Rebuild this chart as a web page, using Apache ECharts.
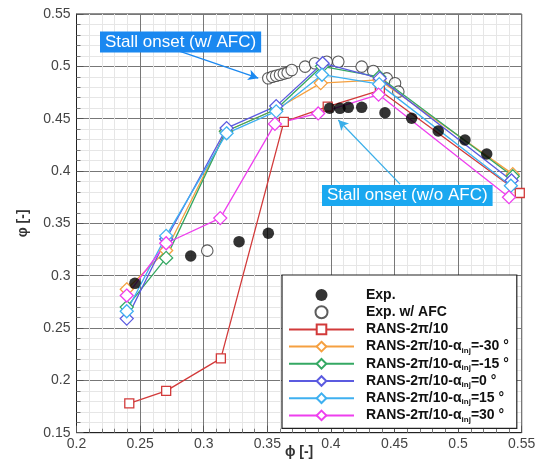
<!DOCTYPE html>
<html><head><meta charset="utf-8">
<script src="https://cdn.jsdelivr.net/npm/echarts@6/dist/echarts.min.js"></script>
<style>html,body{margin:0;padding:0;background:#fff}#c{width:544px;height:469px}</style>
</head><body><div id="c"></div>
<script>
// ---- data ----
const xTicks = [0.2, 0.25, 0.3, 0.35, 0.4, 0.45, 0.5, 0.55];
const yTicks = [0.15, 0.2, 0.25, 0.3, 0.35, 0.4, 0.45, 0.5, 0.55];

const expPhi = [0.2459, 0.2898, 0.3278, 0.3508, 0.399, 0.4071, 0.4137, 0.4242, 0.4425, 0.4635, 0.4844, 0.5054, 0.5225];
const expPsi = [0.2927, 0.3188, 0.3325, 0.3405, 0.460, 0.4599, 0.4608, 0.4608, 0.4557, 0.4504, 0.4382, 0.4296, 0.4163];

const afcPhi = [0.3028, 0.3508, 0.354, 0.357, 0.360, 0.363, 0.366, 0.3692, 0.3797, 0.3875, 0.3967, 0.4058, 0.4242, 0.4333, 0.4439, 0.4504, 0.453];
const afcPsi = [0.3239, 0.4886, 0.490, 0.491, 0.492, 0.493, 0.494, 0.4965, 0.4997, 0.5029, 0.5044, 0.5044, 0.4997, 0.4955, 0.4885, 0.4838, 0.4758];

const ransPhi = [0.2415, 0.2705, 0.3135, 0.3630, 0.3975, 0.4385, 0.5485];
const ransPsi = [0.178, 0.190, 0.221, 0.447, 0.4615, 0.477, 0.379];

const m30Phi = [0.2395, 0.2705, 0.3175, 0.357, 0.392, 0.438, 0.543];
const m30Psi = [0.287, 0.324, 0.438, 0.459, 0.484, 0.487, 0.397];

const m15Phi = [0.2395, 0.2705, 0.3175, 0.357, 0.393, 0.438, 0.543];
const m15Psi = [0.270, 0.317, 0.438, 0.459, 0.500, 0.490, 0.395];

const a0Phi = [0.2395, 0.2705, 0.318, 0.357, 0.3935, 0.4385, 0.542];
const a0Psi = [0.259, 0.335, 0.441, 0.462, 0.503, 0.4885, 0.391];

const p15Phi = [0.2395, 0.2705, 0.318, 0.357, 0.393, 0.438, 0.5415];
const p15Psi = [0.266, 0.338, 0.436, 0.457, 0.492, 0.483, 0.386];

const p30Phi = [0.2395, 0.2705, 0.313, 0.356, 0.390, 0.4375, 0.540];
const p30Psi = [0.281, 0.331, 0.355, 0.445, 0.455, 0.473, 0.375];

const names = ['Exp.', 'Exp. w/ AFC', 'RANS-2π/10', 'RANS-2π/10-αinj=-30°', 'RANS-2π/10-αinj=-15°',
  'RANS-2π/10-αinj=0°', 'RANS-2π/10-αinj=15°', 'RANS-2π/10-αinj=30°'];

// ---- build ----
const zip = (a, b) => a.map((v, i) => [v, b[i]]);
const lineSeries = (name, xs, ys, color, sym, size) => ({
  name, type: 'line', data: zip(xs, ys), symbol: sym, symbolSize: size,
  lineStyle: { color, width: 1.3 }, itemStyle: { color: '#fff', borderColor: color, borderWidth: 1.3 },
  emphasis: { disabled: true }, z: 3
});
const F = 'Liberation Sans';

const chart = echarts.init(document.getElementById('c'));
chart.setOption({
  animation: false,
  grid: { left: 76.5, right: 22.3, top: 14, bottom: 36.3, show: true, borderColor: '#222', borderWidth: 1,
    outerBoundsMode: 'none', containLabel: false },
  xAxis: {
    type: 'value', min: 0.2, max: 0.55, interval: 0.05,
    name: 'ϕ [-]', nameLocation: 'middle', nameGap: 12, nameMoveOverlap: false,
    nameTextStyle: { fontFamily: F, fontWeight: 'bold', fontSize: 14, color: '#333', verticalAlign: 'top' },
    axisLine: { lineStyle: { color: '#222' } },
    axisTick: { inside: true, length: 7, lineStyle: { color: '#555' } },
    minorTick: { show: true, splitNumber: 5, length: 4, lineStyle: { color: '#777' } },
    splitLine: { lineStyle: { color: '#777', width: 1 } },
    minorSplitLine: { show: true, lineStyle: { color: '#e6e6e6', width: 1 } },
    axisLabel: { fontFamily: F, fontSize: 14, color: '#444', margin: 4,
      formatter: v => String(+v.toFixed(2)) }
  },
  yAxis: {
    type: 'value', min: 0.15, max: 0.55, interval: 0.05,
    name: 'φ [-]', nameLocation: 'middle', nameGap: 46, nameRotate: 90, nameMoveOverlap: false,
    nameTextStyle: { fontFamily: F, fontWeight: 'bold', fontSize: 14, color: '#333' },
    axisLine: { show: true, lineStyle: { color: '#222' } },
    axisTick: { inside: true, length: 7, lineStyle: { color: '#555' } },
    minorTick: { show: true, splitNumber: 5, length: 4, lineStyle: { color: '#777' } },
    splitLine: { lineStyle: { color: '#777', width: 1 } },
    minorSplitLine: { show: true, lineStyle: { color: '#e6e6e6', width: 1 } },
    axisLabel: { fontFamily: F, fontSize: 14, color: '#444', margin: 6,
      formatter: v => String(+v.toFixed(2)) }
  },
  legend: {
    orient: 'vertical', left: 282, top: 275,
    backgroundColor: '#fff', borderColor: '#222', borderWidth: 1.2,
    padding: [12, 8, 5, 6],
    itemWidth: 65, itemHeight: 12, itemGap: 1.2,
    data: names,
    textStyle: {
      fontFamily: F, fontWeight: 'bold', fontSize: 14, color: '#111', lineHeight: 16,
      rich: {
        g: { width: 7, lineHeight: 16 },
        b: { fontFamily: F, fontWeight: 'bold', fontSize: 14, color: '#111', lineHeight: 16 },
        s: { fontFamily: F, fontWeight: 'bold', fontSize: 8, color: '#111', lineHeight: 8, verticalAlign: 'bottom' }
      }
    },
    formatter: n => {
      const i = n.indexOf('αinj');
      if (i < 0) return '{g|}{b|' + n + '}';
      const rest = n.slice(i + 4).replace('°', ' °');
      return '{g|}{b|' + n.slice(0, i) + 'α}{s|inj}{b|' + rest + '}';
    }
  },
  series: [
    { name: names[0], type: 'scatter', data: zip(expPhi, expPsi), symbol: 'circle', symbolSize: 11.5,
      itemStyle: { color: '#000' }, z: 4 },
    { name: names[1], type: 'scatter', data: zip(afcPhi, afcPsi), symbol: 'circle', symbolSize: 11.5,
      itemStyle: { color: '#fff', borderColor: '#333', borderWidth: 1.1 }, z: 2 },
    lineSeries(names[2], ransPhi, ransPsi, '#d23a3a', 'rect', 9),
    lineSeries(names[3], m30Phi, m30Psi, '#f5a040', 'diamond', 13),
    lineSeries(names[4], m15Phi, m15Psi, '#35a863', 'diamond', 13),
    lineSeries(names[5], a0Phi, a0Psi, '#5b5be0', 'diamond', 13),
    lineSeries(names[6], p15Phi, p15Psi, '#3fb0f0', 'diamond', 13),
    lineSeries(names[7], p30Phi, p30Psi, '#ee3fee', 'diamond', 13),
    { type: 'line', data: [], silent: true,
      markLine: { silent: true, symbol: ['none', 'arrow'], symbolSize: [8, 10], label: { show: false },
        data: [
          [{ coord: [0.2814, 0.5144], lineStyle: { color: '#1a88f0', width: 1.3, type: 'solid' } }, { coord: [0.3429, 0.4887] }],
          [{ coord: [0.4544, 0.3875], lineStyle: { color: '#3aaee8', width: 1.3, type: 'solid' } }, { coord: [0.4058, 0.4487] }]
        ] } }
  ],
  graphic: [
    { type: 'text', left: 100, top: 31.5, z: 10,
      style: { text: 'Stall onset (w/ AFC)', fill: '#fff', font: '17px "Liberation Sans"',
        backgroundColor: '#1a88f0', padding: [2, 5, 2, 5] } },
    { type: 'text', left: 322, top: 185, z: 10,
      style: { text: 'Stall onset (w/o AFC)', fill: '#fff', font: '17px "Liberation Sans"',
        backgroundColor: '#1aa8f0', padding: [2, 5, 2, 5] } }
  ]
});
</script></body></html>
